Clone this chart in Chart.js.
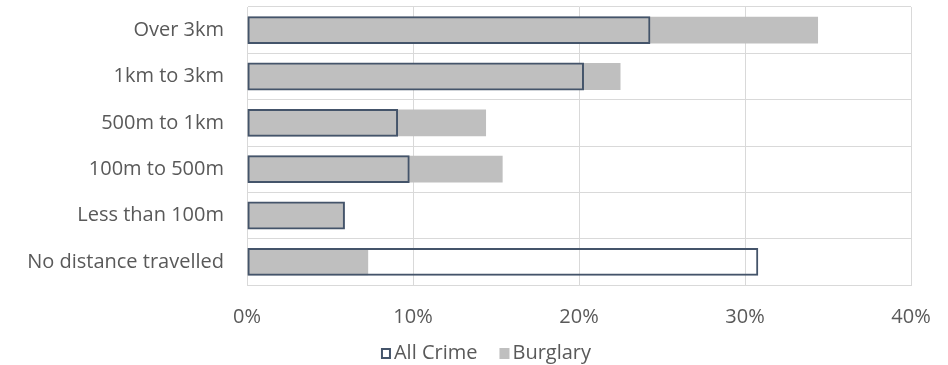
<!DOCTYPE html>
<html>
<head>
<meta charset="utf-8">
<script src="https://cdn.jsdelivr.net/npm/chart.js@4/dist/chart.umd.min.js"></script>
<style>
  html, body { margin: 0; padding: 0; background: #ffffff; }
  #wrap { width: 948px; height: 365px; position: relative; }
</style>
</head>
<body>
<div id="wrap"><canvas id="chart"></canvas></div>
<script>
// Distance travelled to offence, share of offences
const categories = ['Over 3km', '1km to 3km', '500m to 1km', '100m to 500m', 'Less than 100m', 'No distance travelled'];
const allCrime = [24.3, 20.3, 9.1, 9.8, 5.9, 30.8];
const burglary = [34.4, 22.5, 14.4, 15.4, 5.8, 7.3];
const xTicks = [0, 10, 20, 30, 40];
const seriesNames = ['All Crime', 'Burglary'];

const textColor = '#595959';
const gridColor = '#D9D9D9';
const navy = '#44546A';
const grey = '#BFBFBF';
const fontFamily = '"Open Sans", Lato, sans-serif';
const fontSize = 20;

// Legend drawn under the axis labels
const bottomLegend = {
  id: 'bottomLegend',
  afterDraw(chart) {
    const ctx = chart.ctx;
    ctx.save();
    ctx.font = fontSize + 'px ' + fontFamily;
    ctx.textBaseline = 'middle';
    ctx.textAlign = 'left';
    const y = 353;
    const box = 10, gapText = 3, gapItem = 22;
    const widths = seriesNames.map(s => ctx.measureText(s).width);
    const total = widths.reduce((a, w) => a + box + gapText + w, 0) + gapItem;
    let x = 486 - total / 2;
    seriesNames.forEach((name, i) => {
      if (i === 0) {
        ctx.fillStyle = '#ffffff';
        ctx.fillRect(x, y - box / 2, box, box + 1);
        ctx.strokeStyle = navy;
        ctx.lineWidth = 2;
        ctx.strokeRect(x + 1, y - box / 2 + 1, box - 2, box - 1);
      } else {
        ctx.fillStyle = grey;
        ctx.fillRect(x, y - box / 2, box, box + 1);
      }
      ctx.fillStyle = textColor;
      ctx.fillText(name, x + box + gapText, y);
      x += box + gapText + widths[i] + gapItem;
    });
    ctx.restore();
  }
};

new Chart(document.getElementById('chart'), {
  type: 'bar',
  data: {
    labels: categories,
    datasets: [
      {
        label: seriesNames[0],
        data: allCrime,
        backgroundColor: 'rgba(0,0,0,0)',
        borderColor: navy,
        borderWidth: 2,
        borderSkipped: false,
        grouped: false,
        categoryPercentage: 1,
        barPercentage: 0.6
      },
      {
        label: seriesNames[1],
        data: burglary,
        backgroundColor: grey,
        borderWidth: 0,
        grouped: false,
        categoryPercentage: 1,
        barPercentage: 0.58
      }
    ]
  },
  options: {
    indexAxis: 'y',
    responsive: true,
    maintainAspectRatio: false,
    animation: false,
    layout: { padding: { left: 0, right: 37, top: 7, bottom: 30 } },
    scales: {
      x: {
        min: 0,
        max: 40,
        afterBuildTicks: (axis) => { axis.ticks = xTicks.map(v => ({ value: v })); },
        afterFit: (axis) => {
          axis.height = 50;
          axis.paddingLeft = 0;
          axis.paddingRight = 0;
        },
        grid: { color: gridColor, lineWidth: 1, drawTicks: false },
        border: { display: true, color: gridColor },
        ticks: {
          color: textColor,
          font: { family: fontFamily, size: fontSize },
          padding: 20,
          maxRotation: 0,
          callback: (v) => v + '%'
        }
      },
      y: {
        grid: { color: gridColor, lineWidth: 1, drawTicks: false, offset: true },
        border: { display: true, color: gridColor },
        afterFit: (axis) => {
          axis.width = 247;
          axis.paddingTop = 0;
          axis.paddingBottom = 0;
        },
        ticks: {
          color: textColor,
          font: { family: fontFamily, size: fontSize },
          padding: 23
        }
      }
    },
    plugins: {
      tooltip: { enabled: false },
      legend: { display: false }
    }
  },
  plugins: [bottomLegend]
});
</script>
</body>
</html>
